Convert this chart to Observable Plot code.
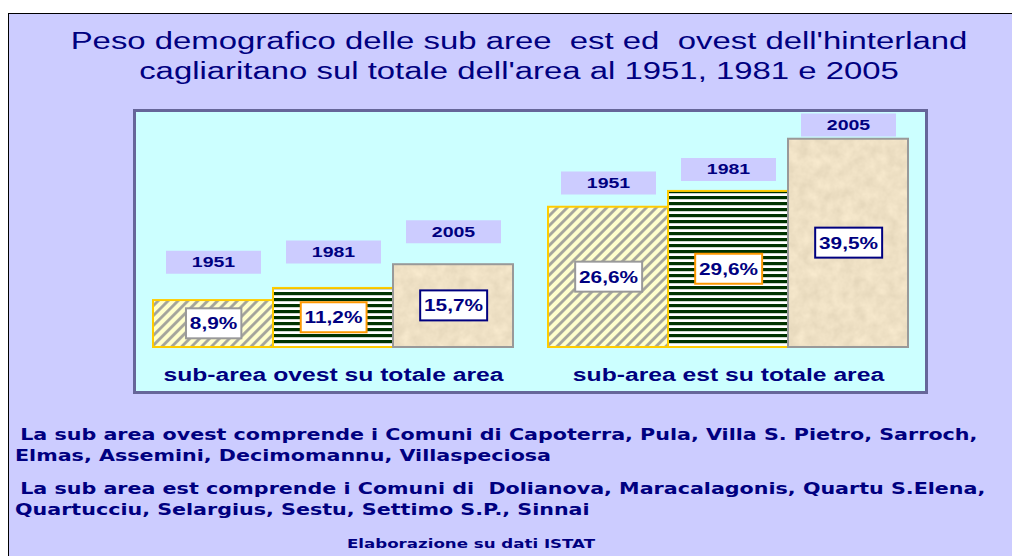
<!DOCTYPE html>
<html><head><meta charset="utf-8">
<script src="https://cdn.jsdelivr.net/npm/d3@7"></script>
<script src="https://cdn.jsdelivr.net/npm/@observablehq/plot@0.6"></script>
<style>
html,body{margin:0;padding:0;background:#fff;width:1012px;height:556px;overflow:hidden;}
#box{position:absolute;left:8px;top:13px;width:1100px;height:600px;border:1px solid #000;background:#ccccff;}
#title{position:absolute;left:8px;top:26px;width:1022px;text-align:center;font-family:"Liberation Sans",Arial,sans-serif;font-size:23px;line-height:30px;color:#000080;white-space:pre;transform:scaleX(1.43);transform-origin:50% 50%;}
#chart{position:absolute;left:133px;top:109px;border:3px solid #666699;background:#ccffff;width:789px;height:279px;}
#chart svg{display:block;}
.note{position:absolute;font-family:"DejaVu Sans",sans-serif;font-weight:bold;font-size:16px;color:#000080;white-space:pre;line-height:21px;transform:scaleX(1.29);transform-origin:0 50%;}
</style></head>
<body>
<div id="box"></div>
<div id="title"></div>
<div id="chart"></div>
<div class="note" id="n1" style="left:13px;top:424px"></div>
<div class="note" id="n2" style="left:15px;top:445px"></div>
<div class="note" id="n3" style="left:13px;top:478px"></div>
<div class="note" id="n4" style="left:15px;top:499px"></div>
<div class="note" id="cap" style="left:0px;width:942px;text-align:center;top:533px;font-size:13px;transform-origin:50% 50%;transform:scaleX(1.28)"></div>
<script>
const titleLines = ["Peso demografico delle sub aree  est ed  ovest dell'hinterland", "cagliaritano sul totale dell'area al 1951, 1981 e 2005"];
const groups = ["sub-area ovest su totale area", "sub-area est su totale area"];
const years = ["1951", "1981", "2005"];
const ovestShare = [8.9, 11.2, 15.7];
const estShare = [26.6, 29.6, 39.5];
const notes = [
  " La sub area ovest comprende i Comuni di Capoterra, Pula, Villa S. Pietro, Sarroch,",
  "Elmas, Assemini, Decimomannu, Villaspeciosa",
  " La sub area est comprende i Comuni di  Dolianova, Maracalagonis, Quartu S.Elena,",
  "Quartucciu, Selargius, Sestu, Settimo S.P., Sinnai"
];
const caption = "Elaborazione su dati ISTAT";

document.getElementById("title").textContent = titleLines.join("\n");
["n1","n2","n3","n4"].forEach((id, i) => document.getElementById(id).textContent = notes[i]);
document.getElementById("cap").textContent = caption;

const data = [
  ...years.map((y, i) => ({group: groups[0], year: y, value: ovestShare[i]})),
  ...years.map((y, i) => ({group: groups[1], year: y, value: estShare[i]}))
];

const fillByYear = {"1951": "url(#hatch)", "1981": "url(#hstripe)", "2005": "url(#parch)"};
const strokeByYear = {"1951": "#ffcc00", "1981": "#ffcc00", "2005": "#999999"};
const boxStrokeByYear = {"1951": "#999999", "1981": "#ff9900", "2005": "#000080"};
const yearBox = {draw(ctx) { ctx.rect(-47.5, -11.5, 95, 23); }};
const tagY = d => d.value * 0.85 + 8.6;
const fmt = v => v.toFixed(1).replace(".", ",") + "%";

const chart = Plot.plot({
  width: 789, height: 279,
  marginLeft: 16, marginRight: 16, marginTop: 3, marginBottom: 44,
  style: {background: "transparent", fontFamily: "'Liberation Sans', Arial, sans-serif", overflow: "visible"},
  fx: {domain: groups, paddingInner: 0.088, paddingOuter: 0, label: null},
  x: {domain: years, padding: 0, axis: null},
  y: {domain: [0, 44], axis: null},
  marks: [
    ...years.map(yr => Plot.barY(data.filter(d => d.year === yr), {
      fx: "group", x: "year", y: "value",
      fill: fillByYear[yr], stroke: strokeByYear[yr], strokeWidth: 2
    })),
    Plot.dot(data, {fx: "group", x: "year", y: tagY, symbol: yearBox, r: 3, fill: "#ccccff", stroke: "none"}),
    Plot.text(data, {fx: "group", x: "year", y: tagY, text: "year", fontSize: 15, fontWeight: "bold", fill: "#000080"}),
    Plot.text(data, {fx: "group", x: "year", y: d => d.value / 2, text: d => fmt(d.value),
      fontSize: 16.5, fontWeight: "bold", fill: "#000080"}),
    Plot.axisFx({anchor: "bottom", tickSize: 0, tickPadding: 21, fontSize: 17.5, fontWeight: "bold", fill: "#000080", label: null})
  ]
});

const ns = "http://www.w3.org/2000/svg";
const defs = document.createElementNS(ns, "defs");
defs.innerHTML = `
<pattern id="hatch" patternUnits="userSpaceOnUse" width="7" height="7" patternTransform="rotate(45)">
  <rect width="7" height="7" fill="#ffffcc"/>
  <rect x="0" width="3" height="7" fill="#b0b0a4"/>
  <rect x="0.8" width="1.4" height="7" fill="#a0a098"/>
</pattern>
<pattern id="hstripe" patternUnits="userSpaceOnUse" width="8" height="6">
  <rect width="8" height="6" fill="#ffffff"/>
  <rect y="0" width="8" height="3.2" fill="#003300"/>
</pattern>
<filter id="noise" x="0" y="0" width="100%" height="100%" color-interpolation-filters="sRGB">
  <feTurbulence type="fractalNoise" baseFrequency="0.09" numOctaves="3" seed="4" result="t"/>
  <feColorMatrix in="t" type="matrix" values="0.1 0 0 0 0.885  0.1 0 0 0 0.83  0.1 0 0 0 0.72  0 0 0 0 1"/>
</filter>
<pattern id="parch" patternUnits="userSpaceOnUse" width="400" height="300">
  <rect width="400" height="300" fill="#eee0c4" filter="url(#noise)"/>
</pattern>`;
chart.insertBefore(defs, chart.firstChild);
document.getElementById("chart").appendChild(chart);

// widen the chart lettering, as in the reference, without moving the texts
const valueYear = new Map(data.map(d => [fmt(d.value), d.year]));
chart.querySelectorAll("text").forEach(t => {
  const s = t.textContent;
  let sc = null;
  if (years.includes(s)) sc = 1.3;
  else if (groups.includes(s)) sc = 1.41;
  else if (valueYear.has(s)) sc = 1.26;
  if (sc === null) return;
  const b = t.getBBox();
  const w = t.getComputedTextLength();
  t.setAttribute("textLength", w * sc);
  t.setAttribute("lengthAdjust", "spacingAndGlyphs");
  if (valueYear.has(s)) {
    const cx = b.x + b.width / 2, cy = b.y + b.height / 2;
    const bw = w * sc + 8;
    const r = document.createElementNS(ns, "rect");
    r.setAttribute("x", cx - bw / 2);
    r.setAttribute("width", bw);
    r.setAttribute("y", cy - 15);
    r.setAttribute("height", 30);
    r.setAttribute("fill", "#ffffff");
    r.setAttribute("stroke", boxStrokeByYear[valueYear.get(s)]);
    r.setAttribute("stroke-width", 2);
    const tr = t.getAttribute("transform");
    if (tr) r.setAttribute("transform", tr);
    t.parentNode.insertBefore(r, t);
  }
});
</script>
</body></html>
